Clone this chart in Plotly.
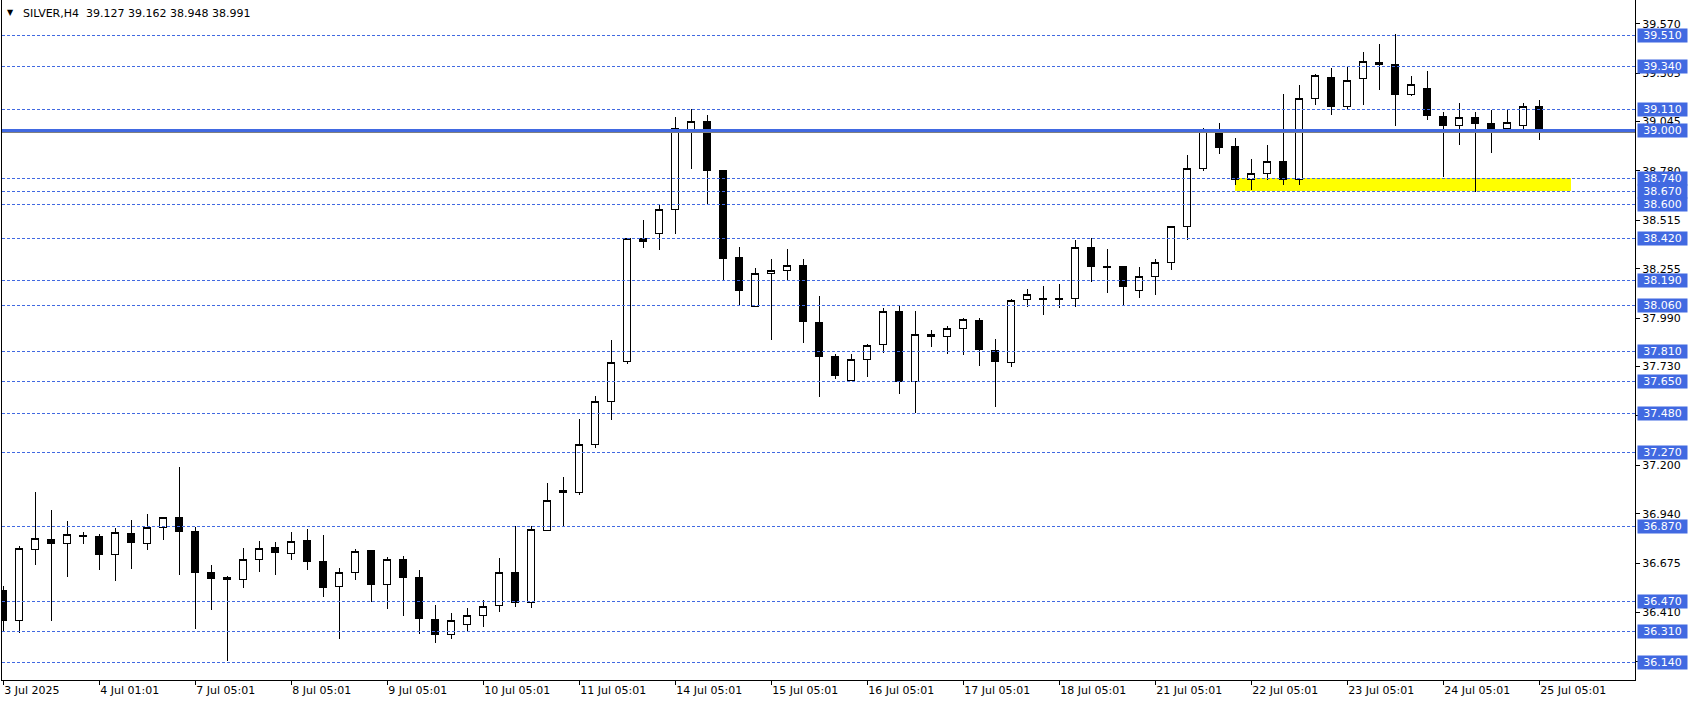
import plotly.graph_objects as go

# ---------------- data ----------------
opens = [36.530, 36.365, 36.748, 36.802, 36.781, 36.825, 36.818, 36.722, 36.834, 36.781,
         36.867, 36.920, 36.847, 36.625, 36.595, 36.587, 36.695, 36.759, 36.727, 36.797,
         36.684, 36.548, 36.625, 36.740, 36.559, 36.695, 36.600, 36.373, 36.292, 36.346,
         36.394, 36.448, 36.625, 36.464, 36.851, 37.065, 37.056, 37.312, 37.542, 37.755,
         38.420, 38.443, 38.573, 38.998, 39.046, 38.783, 38.318, 38.053, 38.230, 38.244,
         38.275, 37.968, 37.786, 37.653, 37.768, 37.849, 38.028, 37.650, 37.904, 37.891,
         37.934, 37.979, 37.818, 37.752, 38.090, 38.097, 38.097, 38.096, 38.369, 38.269,
         38.268, 38.139, 38.214, 38.289, 38.482, 38.794, 38.993, 38.912, 38.733, 38.765,
         38.831, 38.733, 39.170, 39.283, 39.125, 39.277, 39.363, 39.352, 39.189, 39.225,
         39.073, 39.023, 39.068, 39.036, 39.007, 39.023, 39.127]
highs = [36.553, 36.765, 37.056, 36.960, 36.901, 36.840, 36.829, 36.861, 36.906, 36.938,
         36.920, 37.191, 36.867, 36.663, 36.605, 36.756, 36.793, 36.786, 36.842, 36.858,
         36.825, 36.647, 36.748, 36.740, 36.707, 36.713, 36.637, 36.448, 36.407, 36.432,
         36.475, 36.702, 36.872, 36.872, 37.105, 37.137, 37.450, 37.571, 37.872, 38.418,
         38.516, 38.602, 39.069, 39.112, 39.080, 38.783, 38.371, 38.257, 38.307, 38.360,
         38.307, 38.108, 37.800, 37.800, 37.849, 38.042, 38.063, 38.028, 37.926, 37.947,
         37.993, 37.993, 37.877, 38.092, 38.146, 38.162, 38.173, 38.412, 38.418, 38.359,
         38.268, 38.264, 38.307, 38.482, 38.866, 39.009, 39.037, 38.957, 38.842, 38.919,
         39.193, 39.241, 39.300, 39.333, 39.342, 39.419, 39.462, 39.515, 39.290, 39.317,
         39.095, 39.145, 39.096, 39.105, 39.112, 39.145, 39.162]
lows = [36.308, 36.301, 36.666, 36.365, 36.602, 36.779, 36.637, 36.580, 36.645, 36.747,
        36.800, 36.612, 36.322, 36.425, 36.149, 36.543, 36.629, 36.612, 36.693, 36.637,
        36.494, 36.269, 36.586, 36.467, 36.430, 36.392, 36.296, 36.247, 36.269, 36.312,
        36.333, 36.414, 36.441, 36.435, 36.851, 36.867, 37.038, 37.290, 37.442, 37.743,
        38.368, 38.355, 38.443, 38.792, 38.602, 38.187, 38.056, 38.053, 37.875, 38.194,
        37.857, 37.568, 37.664, 37.653, 37.675, 37.804, 37.584, 37.478, 37.836, 37.800,
        37.791, 37.734, 37.514, 37.729, 38.051, 38.008, 38.045, 38.051, 38.185, 38.126,
        38.060, 38.100, 38.116, 38.250, 38.411, 38.781, 38.873, 38.706, 38.679, 38.733,
        38.706, 38.706, 39.136, 39.082, 39.114, 39.136, 39.216, 39.023, 39.184, 39.055,
        38.749, 38.919, 38.667, 38.878, 38.991, 39.002, 38.948]
closes = [36.365, 36.754, 36.808, 36.779, 36.829, 36.817, 36.720, 36.840, 36.784, 36.867,
          36.920, 36.843, 36.623, 36.591, 36.586, 36.695, 36.754, 36.731, 36.791, 36.682,
          36.543, 36.625, 36.738, 36.559, 36.695, 36.596, 36.376, 36.290, 36.367, 36.394,
          36.442, 36.625, 36.462, 36.856, 37.012, 37.055, 37.312, 37.542, 37.752, 38.418,
          38.400, 38.573, 39.008, 39.046, 38.783, 38.309, 38.137, 38.230, 38.246, 38.273,
          37.970, 37.782, 37.680, 37.768, 37.843, 38.028, 37.648, 37.902, 37.891, 37.934,
          37.983, 37.820, 37.755, 38.087, 38.117, 38.088, 38.088, 38.369, 38.266, 38.260,
          38.158, 38.214, 38.289, 38.482, 38.794, 38.993, 38.905, 38.733, 38.767, 38.831,
          38.733, 39.170, 39.293, 39.125, 39.266, 39.369, 39.352, 39.189, 39.245, 39.077,
          39.023, 39.068, 39.034, 39.007, 39.041, 39.127, 38.991]

x_tick_bars = list(range(0, 97, 6))
x_tick_labels = ["3 Jul 2025", "4 Jul 01:01", "7 Jul 05:01", "8 Jul 05:01", "9 Jul 05:01",
                 "10 Jul 05:01", "11 Jul 05:01", "14 Jul 05:01", "15 Jul 05:01",
                 "16 Jul 05:01", "17 Jul 05:01", "18 Jul 05:01", "21 Jul 05:01",
                 "22 Jul 05:01", "23 Jul 05:01", "24 Jul 05:01", "25 Jul 05:01"]
y_tick_values = [39.570, 39.305, 39.045, 38.780, 38.515, 38.255, 37.990, 37.730,
                 37.465, 37.200, 36.940, 36.675, 36.410, 36.145]
levels = [39.510, 39.340, 39.110, 38.740, 38.670, 38.600, 38.420, 38.190, 38.060,
          37.810, 37.650, 37.480, 37.270, 36.870, 36.470, 36.310, 36.140]
main_level = 39.000
zone_bars = [77, 98]
zone_prices = [38.670, 38.740]
title_text = "SILVER,H4\u00a0\u00a039.127 39.162 38.948 38.991"

# ---------------- figure ----------------
FONT = "DejaVu Sans"
BLUE = "#4169E1"
Y_RANGE = [36.047, 39.698]
PLOT_H = 680
px_price = (Y_RANGE[1] - Y_RANGE[0]) / PLOT_H   # price per screen pixel (styling only)

fig = go.Figure(go.Candlestick(
    x=list(range(len(opens))), open=opens, high=highs, low=lows, close=closes,
    increasing=dict(line=dict(color="black", width=1), fillcolor="white"),
    decreasing=dict(line=dict(color="black", width=1), fillcolor="black"),
    whiskerwidth=0, hoverinfo="skip", showlegend=False))

shapes = [dict(type="rect", xref="x", yref="y", x0=zone_bars[0], x1=zone_bars[1],
               y0=zone_prices[0], y1=zone_prices[1], fillcolor="#FFFF00",
               line=dict(width=0), layer="below")]
for lv in levels:
    shapes.append(dict(type="line", xref="paper", yref="y", x0=0, x1=1, y0=lv, y1=lv,
                       line=dict(color=BLUE, width=1, dash="3px,2px"), layer="above"))
shade_y = main_level - 2 * px_price
shapes.append(dict(type="line", xref="paper", yref="y", x0=0, x1=1,
                   y0=shade_y, y1=shade_y,
                   line=dict(color="#808080", width=1), layer="above"))
shapes.append(dict(type="line", xref="paper", yref="y", x0=0, x1=1, y0=main_level,
                   y1=main_level, line=dict(color=BLUE, width=3), layer="above"))

annotations = []
for lv in levels + [main_level]:
    annotations.append(dict(xref="paper", yref="y", x=1, y=lv, xanchor="left",
                            yanchor="middle", xshift=2, text=f"{lv:.3f}",
                            showarrow=False, bgcolor=BLUE, width=47, height=11,
                            borderpad=1, align="center",
                            font=dict(family=FONT, size=11, color="white")))
annotations.append(dict(xref="paper", yref="paper", x=0, y=1, xanchor="left",
                        yanchor="top", xshift=19, yshift=-5, text=title_text,
                        showarrow=False, font=dict(family=FONT, size=11, color="black")))
annotations.append(dict(xref="paper", yref="paper", x=0, y=1, xanchor="left",
                        yanchor="top", xshift=3, yshift=-6, text="\u25BC",
                        showarrow=False, font=dict(family=FONT, size=8, color="black")))

fig.update_layout(
    template="none",
    width=1692, height=704,
    margin=dict(l=2, r=57, t=0, b=24, autoexpand=False),
    paper_bgcolor="white", plot_bgcolor="white",
    boxgap=0.37, hovermode=False,
    shapes=shapes, annotations=annotations,
    font=dict(family=FONT, size=11, color="black"),
    xaxis=dict(range=[-0.08, 101.98], tickmode="array", tickvals=x_tick_bars,
               ticktext=x_tick_labels, ticks="outside", ticklen=4, tickcolor="black",
               ticklabelposition="outside right", automargin=False,
               showline=True, linecolor="black", linewidth=1, showgrid=False,
               zeroline=False, rangeslider=dict(visible=False),
               tickfont=dict(family=FONT, size=11, color="black")),
    yaxis=dict(side="right", range=Y_RANGE, tickmode="array",
               tickvals=y_tick_values, ticktext=[f"{v:.3f}" for v in y_tick_values],
               ticks="outside", ticklen=4, tickcolor="black", automargin=False,
               showline=True, mirror=True, linecolor="black", linewidth=1,
               showgrid=False, zeroline=False,
               tickfont=dict(family=FONT, size=11, color="black")),
)

post = ("document.body.style.margin='0';document.body.style.padding='0';"
        "document.querySelectorAll('.shapelayer path, .boxlayer path')"
        ".forEach(function(p){p.style.shapeRendering='crispEdges';});")
fig.write_html("out.html", config={"displayModeBar": False, "staticPlot": True},
               post_script=post)
